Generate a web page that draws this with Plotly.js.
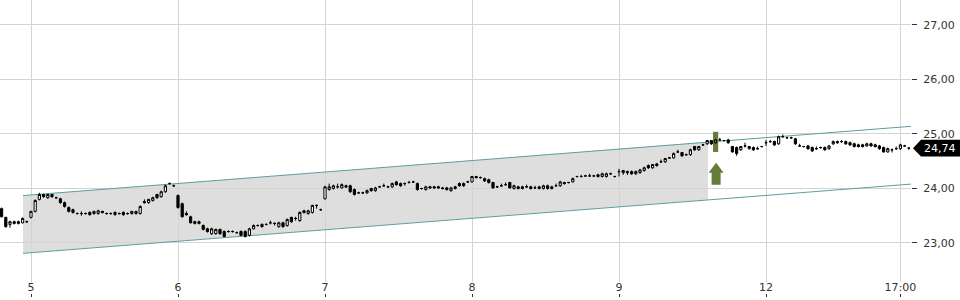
<!DOCTYPE html>
<html>
<head>
<meta charset="utf-8">
<script src="https://cdn.plot.ly/plotly-3.0.1.min.js"></script>
<style>html,body{margin:0;padding:0;background:#fff;}#chart{width:960px;height:300px;}</style>
</head>
<body>
<div id="chart"></div>
<script>
// 15-minute candles, 35 per trading day (day 4 partial, then 5, 6, 7, 8, 9, 12)
const openP = [
 23.63,23.47,23.34,23.39,23.39,23.37,23.39,
 23.47,23.58,23.80,23.89,23.83,23.89,23.83,23.81,23.74,23.65,23.61,23.54,23.54,23.54,23.56,23.54,23.54,23.58,23.54,23.54,23.52,23.54,23.56,23.54,23.54,23.54,23.54,23.76,23.74,23.78,23.89,23.85,23.94,24.09,24.05,
 23.87,23.72,23.54,23.48,23.39,23.39,23.32,23.26,23.17,23.17,23.25,23.21,23.21,23.21,23.19,23.21,23.21,23.14,23.26,23.32,23.34,23.34,23.37,23.36,23.30,23.37,23.32,23.47,23.45,23.41,23.59,23.54,23.56,23.69,23.61,
 23.81,23.98,24.00,24.03,24.01,24.05,24.05,23.98,23.92,23.92,23.92,24.00,23.96,24.03,24.05,24.03,24.03,24.12,24.09,24.09,24.11,24.12,24.09,24.00,23.98,24.03,24.03,24.03,24.01,24.01,23.96,24.00,24.09,24.09,24.12,
 24.12,24.22,24.20,24.18,24.16,24.11,24.03,24.05,24.07,24.11,24.00,24.03,24.03,24.03,24.03,24.01,24.00,24.00,24.05,24.00,24.05,24.05,24.11,24.11,24.12,24.22,24.22,24.23,24.23,24.23,24.25,24.22,24.22,24.27,24.22,
 24.31,24.29,24.31,24.31,24.27,24.29,24.33,24.42,24.38,24.45,24.49,24.49,24.56,24.56,24.67,24.66,24.62,24.62,24.77,24.71,24.80,24.82,24.88,24.84,24.89,24.88,24.89,24.77,24.75,24.71,24.78,24.73,24.75,24.73,24.77,
 24.84,24.86,24.86,24.82,24.95,24.93,24.93,24.91,24.78,24.77,24.78,24.75,24.73,24.75,24.75,24.73,24.82,24.86,24.86,24.86,24.84,24.82,24.80,24.80,24.78,24.82,24.80,24.78,24.75,24.67,24.71,24.73,24.73,24.78,24.74
];
const highP = [
 23.65,23.48,23.41,23.41,23.41,23.47,23.41,
 23.59,23.80,23.92,23.90,23.90,23.90,23.85,23.83,23.76,23.67,23.63,23.56,23.58,23.56,23.58,23.59,23.61,23.59,23.56,23.56,23.58,23.56,23.58,23.56,23.59,23.59,23.69,23.80,23.81,23.85,23.90,23.96,24.07,24.11,24.07,
 23.89,23.74,23.58,23.50,23.41,23.41,23.34,23.28,23.28,23.26,23.26,23.23,23.23,23.23,23.21,23.23,23.23,23.28,23.34,23.34,23.36,23.36,23.41,23.37,23.39,23.39,23.45,23.48,23.48,23.58,23.61,23.61,23.70,23.70,23.63,
 24.05,24.09,24.07,24.09,24.09,24.07,24.07,24.00,23.94,23.94,23.98,24.01,24.03,24.05,24.09,24.05,24.11,24.14,24.11,24.11,24.14,24.14,24.11,24.01,24.05,24.05,24.05,24.05,24.03,24.03,24.03,24.05,24.11,24.11,24.14,
 24.23,24.23,24.22,24.20,24.18,24.12,24.05,24.09,24.11,24.12,24.07,24.05,24.05,24.07,24.05,24.05,24.05,24.07,24.07,24.05,24.09,24.14,24.12,24.12,24.20,24.23,24.25,24.25,24.27,24.25,24.27,24.29,24.29,24.29,24.23,
 24.36,24.34,24.33,24.33,24.33,24.36,24.40,24.44,24.45,24.47,24.53,24.56,24.58,24.66,24.71,24.67,24.64,24.73,24.78,24.78,24.82,24.89,24.89,24.91,24.93,24.89,24.91,24.78,24.77,24.78,24.84,24.78,24.77,24.77,24.78,
 24.89,24.89,24.88,24.97,24.99,24.95,24.95,24.93,24.82,24.78,24.80,24.77,24.77,24.77,24.77,24.80,24.88,24.88,24.89,24.88,24.86,24.84,24.82,24.82,24.84,24.84,24.82,24.80,24.77,24.75,24.73,24.77,24.82,24.80,24.75
];
const lowP = [
 23.47,23.28,23.28,23.34,23.34,23.36,23.37,
 23.45,23.56,23.78,23.83,23.81,23.83,23.81,23.72,23.65,23.56,23.54,23.52,23.50,23.52,23.50,23.52,23.52,23.54,23.52,23.52,23.50,23.52,23.50,23.52,23.52,23.52,23.52,23.72,23.72,23.76,23.81,23.83,23.92,24.07,24.03,
 23.63,23.47,23.50,23.36,23.34,23.34,23.23,23.19,23.15,23.15,23.15,23.10,23.19,23.19,23.17,23.12,23.10,23.12,23.25,23.30,23.28,23.32,23.34,23.32,23.28,23.28,23.30,23.37,23.41,23.39,23.54,23.52,23.54,23.63,23.59,
 23.80,23.96,23.98,24.00,24.00,24.01,23.92,23.87,23.90,23.90,23.90,23.94,23.94,24.01,24.03,24.01,24.01,24.05,24.03,24.05,24.09,24.11,23.96,23.98,23.96,24.00,24.00,24.00,23.98,23.96,23.94,23.98,24.03,24.03,24.11,
 24.11,24.18,24.18,24.12,24.09,24.00,24.01,24.03,24.05,24.00,23.98,23.98,23.98,24.01,23.98,24.00,23.98,23.98,23.98,23.98,24.03,24.03,24.07,24.09,24.11,24.20,24.20,24.22,24.22,24.22,24.20,24.20,24.20,24.25,24.20,
 24.22,24.25,24.25,24.25,24.25,24.27,24.31,24.36,24.36,24.40,24.47,24.47,24.55,24.55,24.66,24.58,24.60,24.60,24.69,24.69,24.78,24.80,24.80,24.82,24.88,24.86,24.82,24.66,24.60,24.69,24.75,24.71,24.69,24.71,24.75,
 24.78,24.84,24.78,24.80,24.93,24.91,24.91,24.80,24.77,24.75,24.71,24.67,24.71,24.73,24.69,24.71,24.80,24.82,24.84,24.80,24.78,24.75,24.75,24.75,24.77,24.77,24.75,24.71,24.66,24.66,24.66,24.71,24.71,24.77,24.71
];
const closeP = [
 23.48,23.30,23.39,23.36,23.36,23.45,23.39,
 23.58,23.78,23.89,23.85,23.89,23.85,23.83,23.74,23.67,23.58,23.56,23.54,23.54,23.54,23.52,23.58,23.59,23.56,23.54,23.54,23.56,23.54,23.52,23.54,23.58,23.58,23.67,23.74,23.80,23.83,23.83,23.94,24.05,24.09,24.05,
 23.65,23.48,23.52,23.37,23.36,23.36,23.25,23.21,23.26,23.25,23.17,23.12,23.21,23.21,23.19,23.14,23.12,23.26,23.32,23.32,23.30,23.34,23.37,23.36,23.37,23.30,23.43,23.39,23.45,23.56,23.56,23.59,23.69,23.69,23.61,
 24.03,24.03,24.05,24.03,24.07,24.03,23.94,23.89,23.92,23.92,23.96,23.96,24.01,24.03,24.05,24.03,24.09,24.07,24.05,24.09,24.11,24.12,23.98,24.00,24.03,24.01,24.01,24.01,24.00,23.98,24.01,24.03,24.05,24.05,24.12,
 24.22,24.20,24.20,24.14,24.11,24.01,24.03,24.05,24.07,24.01,24.05,24.00,24.00,24.03,24.00,24.01,24.03,24.05,24.00,24.03,24.05,24.12,24.09,24.11,24.18,24.22,24.22,24.23,24.23,24.23,24.22,24.27,24.27,24.27,24.22,
 24.31,24.33,24.29,24.27,24.31,24.34,24.38,24.38,24.44,24.42,24.49,24.55,24.56,24.64,24.67,24.60,24.62,24.71,24.71,24.77,24.80,24.88,24.82,24.89,24.89,24.88,24.84,24.67,24.64,24.77,24.78,24.77,24.71,24.73,24.77,
 24.84,24.86,24.80,24.95,24.95,24.93,24.93,24.82,24.78,24.77,24.73,24.69,24.73,24.75,24.71,24.78,24.86,24.84,24.86,24.82,24.80,24.77,24.77,24.77,24.82,24.78,24.77,24.73,24.67,24.73,24.71,24.73,24.80,24.78,24.74
];
const candleIndex = openP.map((_, i) => i);

// x-axis labels (day starts and 17:00 on the last day)
const tickIndex = [7, 42, 77, 112, 147, 182, 214];
const tickLabels = ['5', '6', '7', '8', '9', '12', '17:00'];
const priceTicks = [23, 24, 25, 26, 27];

// trend channel
const channelX = [5.1, 216.5];
const channelUpper = [23.87, 25.14];
const channelLower = [22.81, 24.08];
const shadeX = [5.1, 168.2];
const shadeUpper = [23.87, 24.855];
const shadeLower = [22.81, 23.795];

// highlighted signal candle
const signalIndex = 170;
const signalBarRange = [24.67, 25.04];
const signalArrowTip = 24.47;

const xRange = [-0.38, 216.52];
const yRange = [22.284, 27.458];

const lastClose = closeP[closeP.length - 1];
const pxPerPrice = 54.6;
const halfBox = 8.5 / pxPerPrice;
const plotW = 911;

const traces = [
  {type: 'candlestick', x: candleIndex, open: openP, high: highP, low: lowP, close: closeP,
   whiskerwidth: 0,
   increasing: {line: {color: '#000', width: 1}, fillcolor: '#ffffff'},
   decreasing: {line: {color: '#000', width: 1}, fillcolor: '#000000'},
   hoverinfo: 'skip', showlegend: false},
  {type: 'scatter', mode: 'markers', x: [0], y: [24], xaxis: 'x2', marker: {opacity: 0}, hoverinfo: 'skip', showlegend: false}
];

const font = {family: 'DejaVu Sans, sans-serif', size: 11, color: '#333'};

const shadePath = 'M ' + shadeX[0] + ' ' + shadeLower[0] + ' L ' + shadeX[1] + ' ' + shadeLower[1] +
  ' L ' + shadeX[1] + ' ' + shadeUpper[1] + ' L ' + shadeX[0] + ' ' + shadeUpper[0] + ' Z';

const layout = {
  width: 960, height: 300,
  margin: {l: 0, r: 49, t: 0, b: 3},
  paper_bgcolor: '#fff', plot_bgcolor: '#fff',
  separators: ',.',
  showlegend: false,
  hovermode: false,
  boxgap: 0.25,
  font: font,
  xaxis: {
    range: xRange, tickvals: tickIndex, ticktext: tickLabels,
    showgrid: true, gridcolor: '#d4d4d4', gridwidth: 1,
    zeroline: false, showline: false, ticks: '', ticklabelstandoff: -3,
    rangeslider: {visible: false}, tickfont: font, anchor: 'y', fixedrange: true
  },
  xaxis2: {
    overlaying: 'x', anchor: 'free', position: 0, side: 'bottom',
    range: xRange, tickvals: tickIndex, ticktext: tickLabels,
    showticklabels: false, showgrid: false, zeroline: false, showline: false,
    ticks: 'inside', ticklen: 3, tickcolor: '#333', tickwidth: 1
  },
  yaxis: {
    domain: [15 / 297, 1], side: 'right', range: yRange,
    tickvals: priceTicks, tickformat: '.2f',
    showgrid: true, gridcolor: '#d4d4d4', gridwidth: 1,
    zeroline: false, showline: false,
    ticks: 'outside', ticklen: 5, tickcolor: '#333', tickwidth: 1, ticklabelstandoff: 4,
    tickfont: font, fixedrange: true
  },
  shapes: [
    {type: 'path', layer: 'below', xref: 'x', yref: 'y', path: shadePath,
     fillcolor: '#dedede', line: {width: 0}},
    {type: 'line', layer: 'between', xref: 'x', yref: 'y',
     x0: channelX[0], x1: channelX[1], y0: channelUpper[0], y1: channelUpper[1],
     line: {color: '#5b9ea1', width: 1}},
    {type: 'line', layer: 'between', xref: 'x', yref: 'y',
     x0: channelX[0], x1: channelX[1], y0: channelLower[0], y1: channelLower[1],
     line: {color: '#5b9ea1', width: 1}},
    {type: 'rect', layer: 'between', xref: 'x', yref: 'y', xsizemode: 'pixel', xanchor: signalIndex,
     x0: -2.6, x1: 2.6, y0: signalBarRange[0], y1: signalBarRange[1],
     fillcolor: '#687c3a', line: {width: 0}},
    {type: 'path', layer: 'above', xref: 'x', yref: 'y', xsizemode: 'pixel', ysizemode: 'pixel',
     xanchor: signalIndex, yanchor: signalArrowTip,
     path: 'M 0.5 0 L 8 -10 L 5 -10 L 5 -22 L -4 -22 L -4 -10 L -7 -10 Z',
     fillcolor: '#687c3a', line: {width: 0}},
    {type: 'path', layer: 'above', xref: 'paper', yref: 'y',
     path: 'M ' + (913 / plotW) + ' ' + lastClose +
           ' L ' + (921 / plotW) + ' ' + (lastClose + halfBox) +
           ' L ' + (960 / plotW) + ' ' + (lastClose + halfBox) +
           ' L ' + (960 / plotW) + ' ' + (lastClose - halfBox) +
           ' L ' + (921 / plotW) + ' ' + (lastClose - halfBox) + ' Z',
     fillcolor: '#000', line: {width: 0}}
  ],
  annotations: [
    {xref: 'paper', yref: 'y', x: 922 / plotW, y: lastClose, xanchor: 'left', yanchor: 'middle',
     text: lastClose.toFixed(2).replace('.', ','), showarrow: false,
     font: {family: 'DejaVu Sans, sans-serif', size: 11, color: '#fff'}}
  ]
};

Plotly.newPlot('chart', traces, layout, {displayModeBar: false, staticPlot: true});
</script>
</body>
</html>
